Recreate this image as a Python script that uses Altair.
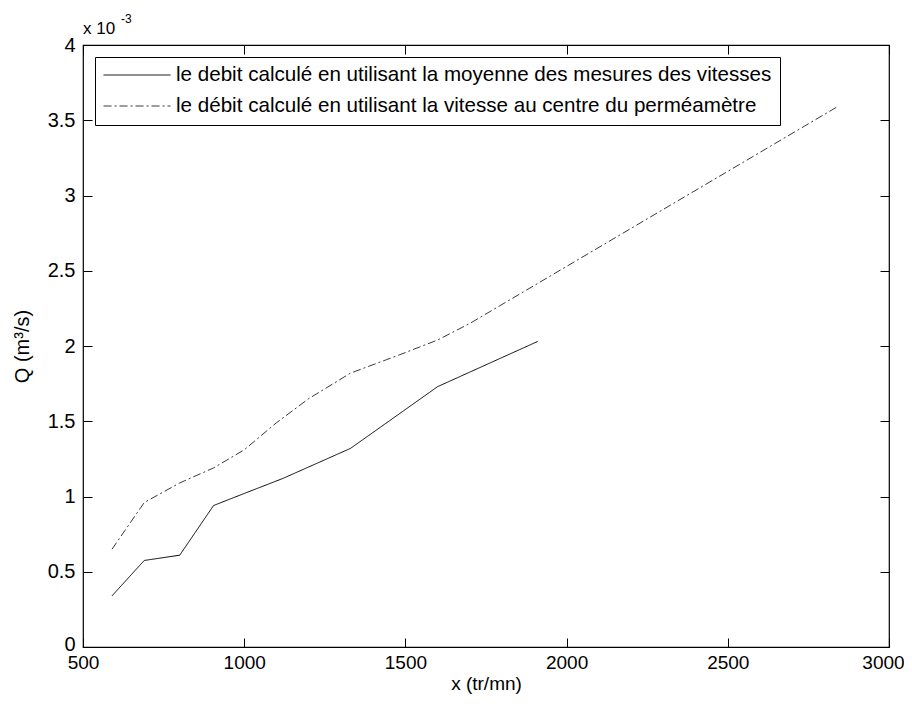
import altair as alt
import pandas as pd

# ---- data ----
serie_labels = [
    "le debit calculé en utilisant la moyenne des mesures des vitesses",
    "le débit calculé en utilisant la vitesse au centre du perméamètre",
]
solid_x = [590, 690, 800, 905, 1000, 1120, 1330, 1600, 1910]
solid_q = [0.00034, 0.000575, 0.00061, 0.00094, 0.00102, 0.00112, 0.00132, 0.00173, 0.00203]
dash_x = [590, 690, 800, 905, 1000, 1100, 1200, 1330, 1480, 1600, 1700, 2840]
dash_q = [0.00065, 0.00096, 0.00109, 0.00119, 0.00131, 0.00149, 0.00165, 0.00182,
          0.00194, 0.00204, 0.00215, 0.00359]
x_ticks = [500, 1000, 1500, 2000, 2500, 3000]
y_ticks = [0, 0.0005, 0.001, 0.0015, 0.002, 0.0025, 0.003, 0.0035, 0.004]
x_domain = [500, 3000]
y_domain = [0, 0.004]
exp_base = ["x 10"]
exp_power = ["-3"]

rows = []
for xv, qv in zip(solid_x, solid_q):
    rows.append({"rpm": xv, "q": qv, "serie": serie_labels[0]})
for xv, qv in zip(dash_x, dash_q):
    rows.append({"rpm": xv, "q": qv, "serie": serie_labels[1]})
df = pd.DataFrame(rows)

W, H = 806, 602
FONT = "Liberation Sans"

xs = alt.Scale(domain=x_domain, nice=False, zero=False)
ys = alt.Scale(domain=y_domain, nice=False, zero=False)

lines = alt.Chart(df).mark_line(strokeWidth=1).encode(
    x=alt.X("rpm:Q", scale=xs,
            axis=alt.Axis(orient="bottom", values=x_ticks, format="d", tickSize=0, domain=False, grid=False,
                          labelFont=FONT, labelFontSize=19, labelColor="#000", labelPadding=6,
                          labelOffset={"condition": {"test": "datum.value == 3000", "value": -6}, "value": 0},
                          labelFlush=False, labelOverlap=False,
                          title="x (tr/mn)", titleFont=FONT, titleFontSize=19, titleFontWeight="normal",
                          titleColor="#000", titlePadding=2)),
    y=alt.Y("q:Q", scale=ys,
            axis=alt.Axis(orient="left", values=y_ticks, tickSize=0, domain=False, grid=False,
                          labelExpr="format(datum.value*1000, '.1~f')",
                          labelFont=FONT, labelFontSize=20, labelColor="#000", labelPadding=8,
                          labelOffset={"condition": {"test": "datum.value == 0", "value": -3}, "value": 0},
                          labelFlush=False, labelOverlap=False,
                          title="Q (m³/s)", titleFont=FONT, titleFontSize=20, titleFontWeight="normal",
                          titleColor="#000", titlePadding=15)),
    color=alt.Color("serie:N", scale=alt.Scale(domain=serie_labels, range=["#000000", "#3a3a3a"]),
                    legend=alt.Legend(title=None)),
    strokeDash=alt.StrokeDash("serie:N", scale=alt.Scale(domain=serie_labels, range=[[1, 0], [8, 3, 2, 3]]),
                              legend=alt.Legend(title=None)),
    order="rpm:Q",
)

ticks_a = alt.Chart(df).mark_line(opacity=0).encode(
    x=alt.X("rpm:Q", scale=xs,
            axis=alt.Axis(orient="top", offset=-H, values=x_ticks, labels=False, domain=False,
                          grid=False, tickSize=9, tickColor="#000", title=None)),
    y=alt.Y("q:Q", scale=ys,
            axis=alt.Axis(orient="right", offset=-W, values=y_ticks, labels=False, domain=False,
                          grid=False, tickSize=9, tickColor="#000", title=None)),
    detail="serie:N",
)

ticks_b = alt.Chart(df).mark_line(opacity=0).encode(
    x=alt.X("rpm:Q", scale=xs,
            axis=alt.Axis(orient="bottom", offset=-H, values=x_ticks, labels=False, domain=False,
                          grid=False, tickSize=9, tickColor="#000", title=None)),
    y=alt.Y("q:Q", scale=ys,
            axis=alt.Axis(orient="left", offset=-W, values=y_ticks, labels=False, domain=False,
                          grid=False, tickSize=9, tickColor="#000", title=None)),
    detail="serie:N",
)

exp1 = alt.Chart(pd.DataFrame({"t": exp_base})).mark_text(
    font=FONT, fontSize=17, align="left", baseline="middle", color="#000"
).encode(text="t:N", x=alt.value(0), y=alt.value(-16))

exp2 = alt.Chart(pd.DataFrame({"t": exp_power})).mark_text(
    font=FONT, fontSize=12, align="left", baseline="middle", color="#000"
).encode(text="t:N", x=alt.value(38), y=alt.value(-26))

chart = alt.layer(lines, ticks_a, ticks_b, exp1, exp2).resolve_axis(
    x="independent", y="independent"
).properties(
    width=W, height=H,
    autosize=alt.AutoSizeParams(type="none"),
    padding={"left": 75, "top": 37, "right": 15, "bottom": 51},
    background="white",
).configure_view(
    stroke="#000", strokeWidth=1.2
).configure_legend(
    orient="none", legendX=12, legendY=12,
    strokeColor="#000", fillColor="#ffffff", padding=8,
    symbolType="stroke", symbolSize=4489, symbolStrokeWidth=1,
    labelFont=FONT, labelFontSize=20.6, labelColor="#000", labelLimit=1000, labelOffset=5,
    rowPadding=10, clipHeight=20,
)

chart.save("out.html", embed_options={"renderer": "svg", "actions": False})
